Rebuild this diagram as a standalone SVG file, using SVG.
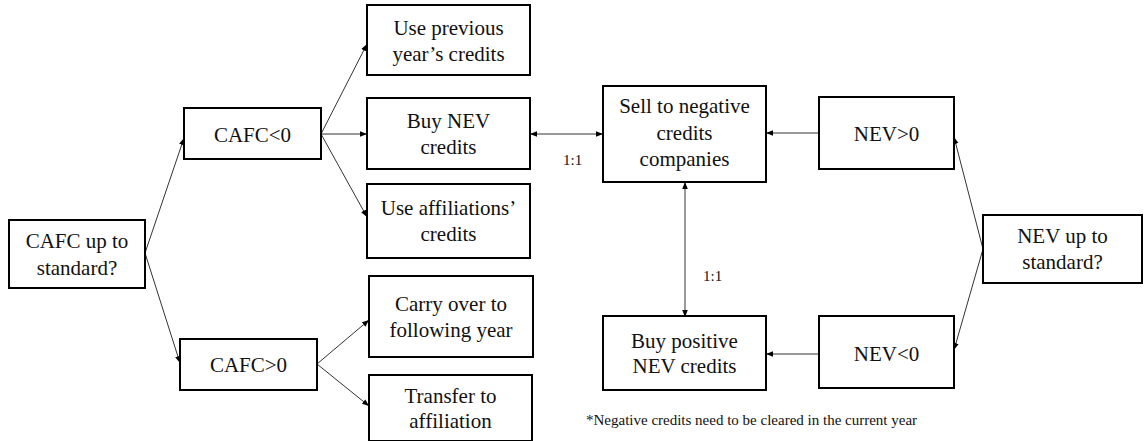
<svg xmlns="http://www.w3.org/2000/svg" width="1146" height="441" viewBox="0 0 1146 441" font-family="Liberation Serif, Times New Roman, serif">
<defs>
<style>
.nodebox{fill:#fff;stroke:#000;stroke-width:2}
.edge{stroke:#333;stroke-width:1;fill:none}
</style>
<marker id="ah" viewBox="0 0 10 10" refX="10" refY="5" markerWidth="7" markerHeight="7" markerUnits="userSpaceOnUse" orient="auto-start-reverse">
<path d="M0,1 L10,5 L0,9 z" fill="#000"/>
</marker>
</defs>
<rect width="1146" height="441" fill="#fff"/>
<g id="connectors">
<line class="edge" x1="145" y1="253" x2="184" y2="138" marker-end="url(#ah)"/>
<line class="edge" x1="145" y1="253" x2="180" y2="363" marker-end="url(#ah)"/>
<line class="edge" x1="321" y1="134" x2="367" y2="44" marker-end="url(#ah)"/>
<line class="edge" x1="321" y1="134" x2="367" y2="134" marker-end="url(#ah)"/>
<line class="edge" x1="321" y1="134" x2="367" y2="217" marker-end="url(#ah)"/>
<line class="edge" x1="317" y1="364" x2="369" y2="320" marker-end="url(#ah)"/>
<line class="edge" x1="317" y1="364" x2="369" y2="406" marker-end="url(#ah)"/>
<line class="edge" x1="530" y1="134" x2="603" y2="134" marker-start="url(#ah)" marker-end="url(#ah)"/>
<line class="edge" x1="685" y1="182" x2="685" y2="317" marker-start="url(#ah)" marker-end="url(#ah)"/>
<line class="edge" x1="819" y1="133" x2="766" y2="133" marker-end="url(#ah)"/>
<line class="edge" x1="819" y1="354" x2="766" y2="354" marker-end="url(#ah)"/>
<line class="edge" x1="983" y1="249" x2="954" y2="137" marker-end="url(#ah)"/>
<line class="edge" x1="983" y1="249" x2="954" y2="350" marker-end="url(#ah)"/>
<text font-size="15" fill="#111" x="563" y="165">1:1</text>
<text font-size="15" fill="#111" x="703" y="281">1:1</text>
</g>
<g id="nodes" font-size="21" fill="#111" text-anchor="middle">
<g id="cafc-standard"><rect class="nodebox" x="9" y="220" width="136" height="68"/><text x="77" y="248">CAFC up to</text><text x="77" y="275">standard?</text></g>
<g id="cafc-neg"><rect class="nodebox" x="184" y="108" width="137" height="51"/><text x="252.5" y="142">CAFC&lt;0</text></g>
<g id="cafc-pos"><rect class="nodebox" x="180" y="339" width="137" height="51"/><text x="248.5" y="372">CAFC&gt;0</text></g>
<g id="use-prev"><rect class="nodebox" x="367" y="5" width="163" height="70"/><text x="448.5" y="35">Use previous</text><text x="448.5" y="61">year’s credits</text></g>
<g id="buy-nev"><rect class="nodebox" x="367" y="98" width="163" height="71"/><text x="448.5" y="128">Buy NEV</text><text x="448.5" y="154">credits</text></g>
<g id="use-aff"><rect class="nodebox" x="367" y="184" width="163" height="74"/><text x="448.5" y="215">Use affiliations’</text><text x="448.5" y="241">credits</text></g>
<g id="carry"><rect class="nodebox" x="369" y="276" width="164" height="81"/><text x="451" y="311">Carry over to</text><text x="451" y="337">following year</text></g>
<g id="transfer"><rect class="nodebox" x="369" y="375" width="163" height="66"/><text x="450.5" y="403">Transfer to</text><text x="450.5" y="428">affiliation</text></g>
<g id="sell"><rect class="nodebox" x="603" y="86" width="163" height="96"/><text x="684.5" y="113">Sell to negative</text><text x="684.5" y="140">credits</text><text x="684.5" y="166">companies</text></g>
<g id="buy-pos"><rect class="nodebox" x="603" y="316" width="163" height="74"/><text x="684.5" y="348">Buy positive</text><text x="684.5" y="373">NEV credits</text></g>
<g id="nev-pos"><rect class="nodebox" x="819" y="97" width="135" height="72"/><text x="886.5" y="141">NEV&gt;0</text></g>
<g id="nev-neg"><rect class="nodebox" x="819" y="316" width="135" height="72"/><text x="886.5" y="361">NEV&lt;0</text></g>
<g id="nev-standard"><rect class="nodebox" x="983" y="215" width="159" height="68"/><text x="1062.5" y="243">NEV up to</text><text x="1062.5" y="269">standard?</text></g>
</g>
<text x="586" y="425" font-size="15" fill="#111">*Negative credits need to be cleared in the current year</text>
</svg>
